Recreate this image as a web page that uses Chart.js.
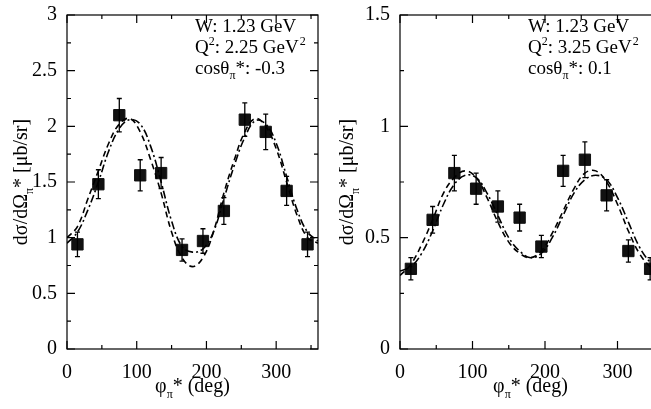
<!DOCTYPE html>
<html><head><meta charset="utf-8">
<script src="https://cdn.jsdelivr.net/npm/chart.js@4"></script>
<style>html,body{margin:0;padding:0;width:651px;height:409px;overflow:hidden;background:#fff}
#a{position:absolute;left:0;top:0}#b{position:absolute;left:325px;top:0}</style>
</head><body>
<div id="a" style="width:330px;height:409px"><canvas id="c1"></canvas></div>
<div id="b" style="width:345px;height:409px"><canvas id="c2"></canvas></div>
<script>
const phi=[15,45,75,105,135,165,195,225,255,285,315,345];
const curvePhi=[0,15,30,45,60,75,90,105,120,135,150,165,180,195,210,225,240,255,270,285,300,315,330,345,360];
const yL=[0.94,1.48,2.10,1.56,1.58,0.89,0.97,1.24,2.06,1.95,1.42,0.94];
const eL=[0.11,0.13,0.15,0.14,0.14,0.10,0.11,0.12,0.15,0.16,0.13,0.11];
const dashL=[1.0,1.1,1.35,1.6,1.85,2.02,2.07,1.95,1.7,1.4,1.05,0.82,0.74,0.82,1.05,1.4,1.7,1.95,2.07,2.0,1.8,1.5,1.2,1.0,0.95];
const dotL=[0.95,1.05,1.25,1.5,1.78,1.98,2.06,2.02,1.82,1.5,1.15,0.92,0.87,0.9,1.05,1.35,1.65,1.9,2.05,2.02,1.85,1.55,1.25,1.05,0.97];
const yR=[0.36,0.58,0.79,0.72,0.64,0.59,0.46,0.80,0.85,0.69,0.44,0.36];
const eR=[0.05,0.06,0.08,0.07,0.07,0.06,0.05,0.07,0.08,0.07,0.05,0.05];
const dashR=[0.33,0.38,0.47,0.58,0.70,0.77,0.80,0.77,0.68,0.57,0.48,0.43,0.41,0.44,0.52,0.62,0.72,0.79,0.80,0.75,0.65,0.53,0.43,0.37,0.34];
const dotR=[0.35,0.37,0.43,0.53,0.65,0.74,0.78,0.77,0.70,0.60,0.50,0.44,0.41,0.43,0.50,0.60,0.70,0.76,0.78,0.76,0.68,0.57,0.46,0.39,0.35];
const xTicks=[0,100,200,300];
const yTicksL=[0,0.5,1,1.5,2,2.5,3];
const yTicksR=[0,0.5,1,1.5];
const F='"Liberation Serif","DejaVu Serif",serif';

function make(id,y,e,dash,dot,ymax,yTicks,yStep,ann,yAxisW,padR){
 const pts=(xs,ys)=>xs.map((x,i)=>({x,y:ys[i]}));
 const plug={id:'p'+id,
  afterDraw(ch){
   const c=ch.ctx,xs=ch.scales.x,ys=ch.scales.y,a=ch.chartArea;
   c.save();c.strokeStyle='#000';c.lineWidth=1.3;
   phi.forEach((p,i)=>{const X=xs.getPixelForValue(p),T=ys.getPixelForValue(y[i]+e[i]),B=ys.getPixelForValue(y[i]-e[i]);
    c.beginPath();c.moveTo(X,T);c.lineTo(X,B);c.moveTo(X-2.5,T);c.lineTo(X+2.5,T);c.moveTo(X-2.5,B);c.lineTo(X+2.5,B);c.stroke();});
   c.lineWidth=1.2;c.strokeRect(a.left,a.top,a.right-a.left,a.bottom-a.top);
   c.beginPath();
   xTicks.forEach(v=>{const X=xs.getPixelForValue(v);c.moveTo(X,a.bottom);c.lineTo(X,a.bottom-8);c.moveTo(X,a.top);c.lineTo(X,a.top+8);});
   for(let v=50;v<360;v+=100){const X=xs.getPixelForValue(v);c.moveTo(X,a.bottom);c.lineTo(X,a.bottom-4);c.moveTo(X,a.top);c.lineTo(X,a.top+4);}
   yTicks.forEach(v=>{const Y=ys.getPixelForValue(v);c.moveTo(a.left,Y);c.lineTo(a.left+8,Y);c.moveTo(a.right,Y);c.lineTo(a.right-8,Y);});
   for(let v=yStep/2;v<ymax;v+=yStep){const Y=ys.getPixelForValue(v);c.moveTo(a.left,Y);c.lineTo(a.left+4,Y);c.moveTo(a.right,Y);c.lineTo(a.right-4,Y);}
   c.stroke();
   c.fillStyle='#000';c.textBaseline='alphabetic';
   const tx=a.left+128;
   const FS='19px '+F, SS='12px '+F;
   c.font=FS;
   c.fillText('W: 1.23 GeV',tx,32);
   c.fillText('Q',tx,53);let w=c.measureText('Q').width;
   c.font=SS;c.fillText('2',tx+w,45);let w2=c.measureText('2').width;
   c.font=FS;const s=': '+ann[0]+' GeV';c.fillText(s,tx+w+w2,53);let w3=c.measureText(s).width;
   c.font=SS;c.fillText('2',tx+w+w2+w3+1,45);
   c.font=FS;c.fillText('cosθ',tx,74);w=c.measureText('cosθ').width;
   c.font=SS;c.fillText('π',tx+w,79);w2=c.measureText('π').width;
   c.font=FS;c.fillText('*: '+ann[1],tx+w+w2,74);
   const cx=(a.left+a.right)/2;
   c.font='20px '+F;
   const t1='φ',t3='* (deg)';const a1=c.measureText(t1).width,a3=c.measureText(t3).width;
   c.font=SS;const a2=c.measureText('π').width;
   let sx=cx-(a1+a2+a3)/2;
   c.font='20px '+F;c.fillText(t1,sx,392);c.font=SS;c.fillText('π',sx+a1,398);c.font='20px '+F;c.fillText(t3,sx+a1+a2,392);
   c.translate(id==='c1'?27:28,(a.top+a.bottom)/2);c.rotate(-Math.PI/2);
   const u1='dσ/dΩ',u3='* [μb/sr]';c.font='20px '+F;const b1=c.measureText(u1).width,b3=c.measureText(u3).width;
   c.font=SS;const b2=c.measureText('π').width;
   sx=-(b1+b2+b3)/2;
   c.font='20px '+F;c.fillText(u1,sx,0);c.font=SS;c.fillText('π',sx+b1,6);c.font='20px '+F;c.fillText(u3,sx+b1+b2,0);
   c.restore();
  }};
 new Chart(document.getElementById(id),{type:'scatter',
  data:{datasets:[
   {data:pts(curvePhi,dash),showLine:true,borderColor:'#000',borderWidth:1.6,borderDash:[6,4],pointRadius:0,tension:0.4},
   {data:pts(curvePhi,dot),showLine:true,borderColor:'#000',borderWidth:1.6,borderDash:[8,3,2,3],pointRadius:0,tension:0.4},
   {data:pts(phi,y),pointStyle:'rect',pointRadius:8,pointHoverRadius:8,backgroundColor:'#111',borderColor:'#111',showLine:false}
  ]},
  options:{responsive:true,maintainAspectRatio:false,animation:false,events:[],
   layout:{padding:{top:15,right:padR,left:0,bottom:0}},
   plugins:{legend:{display:false},tooltip:{enabled:false}},
   scales:{
    x:{type:'linear',min:0,max:360,afterBuildTicks(s){s.ticks=xTicks.map(v=>({value:v}));},
     afterFit(s){s.height=60;},grid:{display:false},border:{display:false},
     ticks:{color:'#000',font:{family:F,size:20},padding:4,maxRotation:0}},
    y:{min:0,max:ymax,afterBuildTicks(s){s.ticks=yTicks.map(v=>({value:v}));},
     afterFit(s){s.width=yAxisW;},grid:{display:false},border:{display:false},
     ticks:{color:'#000',font:{family:F,size:20},padding:2,callback:v=>String(v)}}
   }},
  plugins:[plug]});
}
make('c1',yL,eL,dashL,dotL,3,yTicksL,0.5,['2.25','-0.3'],67,12);
make('c2',yR,eR,dashR,dotR,1.5,yTicksR,0.5,['3.25','0.1'],75,7);
</script></body></html>
